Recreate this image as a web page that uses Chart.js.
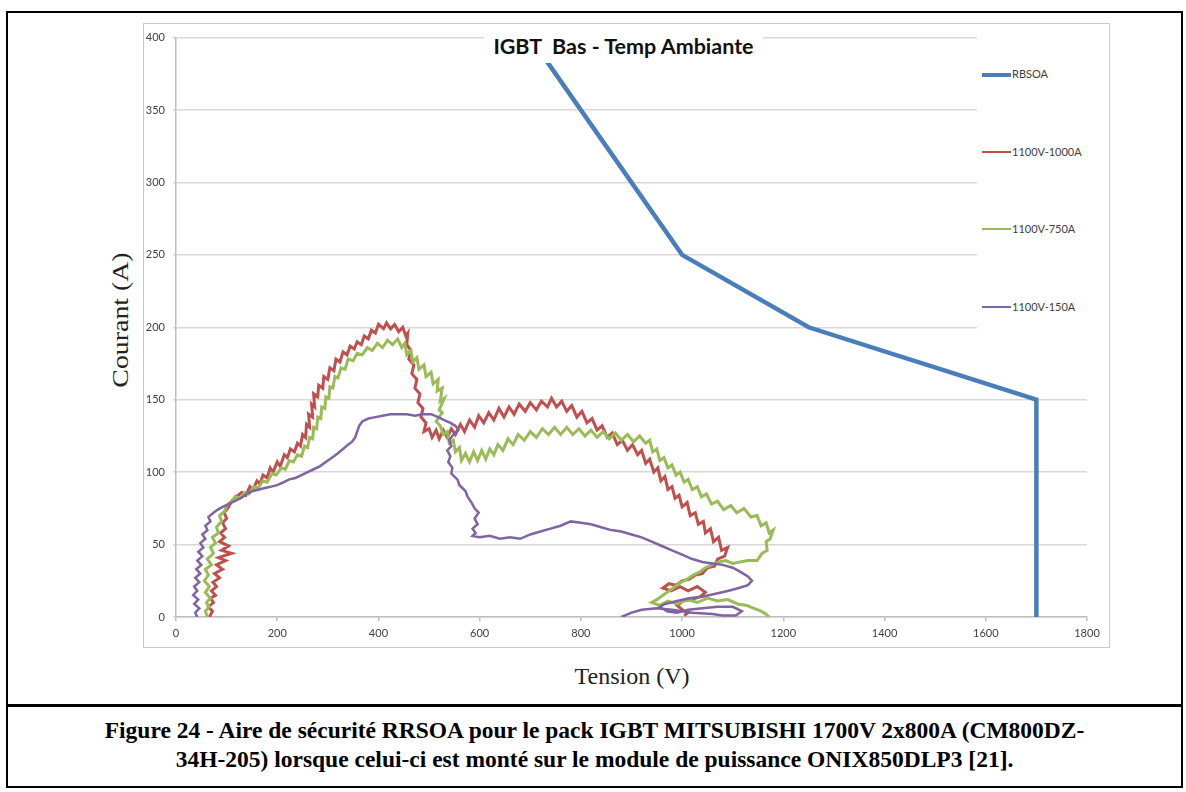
<!DOCTYPE html>
<html>
<head>
<meta charset="utf-8">
<script src="https://cdn.jsdelivr.net/npm/chart.js@4.4.0/dist/chart.umd.min.js"></script>
<style>
    body { margin: 0; background: #fff; width: 1186px; height: 792px; position: relative; overflow: hidden; }
    .abs { position: absolute; }
    #figure { left: 6px; top: 11px; width: 1177px; height: 777px; border: 2px solid #000; box-sizing: border-box; }
    #sep { left: 6px; top: 704px; width: 1177px; height: 3px; background: #000; }
    #frame { left: 143px; top: 23px; width: 967px; height: 625px; border: 1.5px solid #c8c8c8; box-sizing: border-box; }
    #chart { left: 143px; top: 23px; }
    #title { left: 484px; top: 30px; width: 279px; height: 33px; background: #fff; text-align: center;
             font: bold 21.5px Lato, sans-serif; line-height: 33px; white-space: pre; color: #111; }
    #legend { left: 977px; top: 30px; width: 125px; height: 305px; background: #fff; }
    .item { position: absolute; left: 5px; height: 12px; font: 11px Lato, sans-serif; color: #404040; white-space: nowrap; }
    .item span.swatch { position: absolute; left: 0; width: 29px; top: 50%; }
    .item span.txt { position: absolute; left: 30px; top: -1px; line-height: 14px; }
    .axis-title { font: 24px "Liberation Serif", serif; color: #222; text-align: center; line-height: 28px; width: 200px; }
    #xTitle { left: 532px; top: 662px; }
    #yTitle { left: 20px; top: 306px; transform: rotate(-90deg) scaleX(1.16); }
    #caption { left: 6px; top: 716px; width: 1177px; text-align: center; font: bold 23.5px "Liberation Serif", serif;
               line-height: 29px; color: #000; }
</style>
</head>
<body>
<div id="figure" class="abs"></div>
<div id="frame" class="abs"></div>
<canvas id="chart" class="abs" width="967" height="625"></canvas>
<div id="title" class="abs">IGBT  Bas - Temp Ambiante</div>
<div id="legend" class="abs"></div>
<div id="xTitle" class="abs axis-title">Tension (V)</div>
<div id="yTitle" class="abs axis-title">Courant (A)</div>
<div id="sep" class="abs"></div>
<div id="caption" class="abs">Figure 24 - Aire de sécurité RRSOA pour le pack IGBT MITSUBISHI 1700V 2x800A (CM800DZ-<br>34H-205) lorsque celui-ci est monté sur le module de puissance ONIX850DLP3 [21].</div>

<script>
// axes
const xTickValues = [0, 200, 400, 600, 800, 1000, 1200, 1400, 1600, 1800]
const yTickValues = [0, 50, 100, 150, 200, 250, 300, 350, 400]

const seriesLabels = ['RBSOA', '1100V-1000A', '1100V-750A', '1100V-150A']
const seriesColors = ['#4A7EBB', '#C0504D', '#9BBB59', '#8064A2']
const seriesWidths = [4.5, 3, 3, 2.5]

// [tension V, courant A]
const rbsoa = [[700, 400], [1000, 250], [1250, 200], [1700, 150], [1700, 0]]

const v1000A = [
    [66, 0], [72, 4], [64, 7], [74, 10], [68, 13], [78, 15], [70, 18], [80, 21], [73, 24], [86, 27],
    [76, 30], [92, 33], [80, 36], [98, 39], [84, 41], [110, 44], [90, 46], [104, 49], [86, 52], [96, 55],
    [88, 58], [98, 61], [92, 65], [100, 68], [95, 72], [104, 76], [110, 80], [120, 84], [116, 82], [130, 86],
    [138, 84], [146, 90], [152, 88], [160, 94], [166, 92], [172, 98], [180, 96], [186, 103], [192, 100], [200, 107],
    [206, 104], [214, 112], [220, 110], [226, 116], [234, 114], [240, 120], [246, 118], [250, 126], [256, 124], [258, 133],
    [264, 131], [262, 140], [270, 138], [268, 147], [274, 145], [272, 154], [280, 152], [282, 160], [290, 158], [292, 166],
    [300, 164], [304, 172], [312, 170], [316, 178], [324, 176], [330, 183], [338, 181], [344, 187], [352, 185], [358, 190],
    [366, 188], [372, 194], [380, 192], [386, 198], [394, 196], [400, 202], [410, 199], [416, 203], [424, 199], [432, 202],
    [440, 197], [448, 200], [454, 194], [458, 196], [456, 188], [464, 184], [460, 178], [470, 174], [466, 168], [476, 164],
    [472, 158], [482, 154], [478, 148], [488, 144], [484, 138], [494, 134], [490, 128], [500, 130], [506, 124], [514, 129],
    [520, 123], [528, 129], [536, 124], [544, 130], [552, 126], [562, 133], [570, 128], [580, 136], [590, 131], [598, 139],
    [608, 134], [618, 141], [628, 136], [638, 144], [648, 138], [658, 145], [668, 140], [678, 147], [690, 142], [700, 148],
    [712, 143], [722, 149], [734, 145], [742, 151], [752, 145], [762, 149], [772, 142], [782, 146], [792, 138], [802, 142],
    [812, 134], [822, 137], [832, 129], [842, 132], [852, 124], [862, 127], [872, 119], [882, 122], [892, 115], [902, 119],
    [912, 112], [920, 115], [928, 106], [936, 109], [944, 100], [952, 103], [958, 94], [966, 97], [972, 88], [980, 90],
    [986, 82], [994, 84], [1000, 76], [1010, 79], [1016, 70], [1026, 72], [1032, 64], [1042, 66], [1046, 58], [1056, 61],
    [1062, 52], [1072, 55], [1078, 46], [1090, 48], [1084, 42], [1070, 40], [1064, 35], [1050, 34], [1040, 30], [1026, 29],
    [1014, 26], [1000, 25], [988, 22], [974, 23], [962, 20], [978, 18], [996, 21], [1012, 18], [1030, 21], [1046, 17],
    [1036, 14], [1018, 12], [1002, 11], [990, 8], [1000, 5], [1012, 3], [1004, 1]
]

const v750A = [
    [62, 0], [58, 4], [66, 7], [60, 10], [68, 13], [58, 17], [66, 21], [56, 25], [64, 29], [58, 33],
    [70, 36], [62, 40], [74, 44], [68, 48], [78, 51], [72, 55], [84, 58], [80, 62], [90, 66], [86, 70],
    [96, 73], [100, 77], [110, 80], [118, 83], [126, 82], [136, 86], [144, 85], [154, 90], [162, 89], [172, 94],
    [180, 93], [190, 99], [198, 98], [208, 103], [216, 102], [224, 108], [232, 107], [240, 112], [248, 111], [254, 118],
    [260, 117], [264, 124], [270, 123], [272, 131], [278, 130], [280, 138], [286, 137], [288, 145], [294, 144], [296, 152],
    [302, 151], [304, 159], [310, 158], [314, 166], [320, 165], [326, 172], [334, 171], [340, 178], [350, 177], [358, 182],
    [368, 181], [378, 186], [388, 184], [398, 189], [408, 186], [418, 191], [428, 188], [438, 192], [446, 186], [452, 189],
    [456, 181], [464, 184], [468, 176], [476, 179], [480, 171], [490, 174], [494, 166], [504, 169], [508, 161], [518, 164],
    [516, 156], [526, 158], [522, 149], [530, 151], [520, 143], [526, 141], [514, 135], [522, 132], [528, 126], [536, 128],
    [540, 120], [548, 122], [552, 114], [560, 117], [564, 108], [572, 113], [580, 107], [588, 114], [596, 108], [604, 115],
    [612, 109], [620, 116], [628, 112], [636, 119], [646, 115], [656, 123], [666, 119], [676, 126], [688, 122], [700, 128],
    [712, 124], [724, 130], [736, 126], [748, 131], [760, 126], [772, 131], [784, 126], [796, 130], [808, 125], [820, 129],
    [832, 124], [844, 128], [856, 123], [868, 127], [880, 122], [892, 126], [904, 121], [916, 125], [928, 120], [936, 122],
    [942, 114], [950, 116], [956, 108], [964, 110], [972, 103], [980, 105], [988, 98], [996, 100], [1004, 93], [1012, 95],
    [1020, 88], [1030, 90], [1038, 83], [1048, 85], [1058, 78], [1070, 80], [1082, 74], [1096, 77], [1108, 72], [1122, 75],
    [1136, 69], [1148, 70], [1156, 63], [1166, 65], [1172, 58], [1180, 60], [1174, 54], [1166, 52], [1168, 46], [1158, 44],
    [1148, 39], [1130, 39], [1114, 38], [1100, 37], [1086, 39], [1072, 38], [1058, 36], [1046, 34], [1034, 31], [1022, 29],
    [1010, 26], [998, 24], [986, 21], [974, 18], [962, 15], [950, 12], [940, 10], [956, 8], [972, 11], [990, 9],
    [1010, 12], [1030, 10], [1050, 13], [1070, 11], [1090, 12], [1110, 9], [1128, 8], [1142, 6], [1156, 4], [1166, 2],
    [1172, 0]
]

const v150A = [
    [42, 0], [38, 3], [46, 6], [36, 9], [44, 12], [34, 15], [42, 18], [36, 21], [46, 24], [38, 27],
    [48, 30], [40, 33], [50, 36], [42, 39], [52, 42], [44, 45], [54, 48], [48, 51], [58, 54], [52, 57],
    [62, 60], [58, 63], [68, 66], [64, 69], [74, 72], [82, 74], [92, 76], [104, 78], [116, 80], [128, 82],
    [140, 85], [152, 87], [164, 88], [176, 89], [188, 90], [200, 91], [212, 93], [224, 95], [236, 96], [248, 98],
    [260, 100], [272, 102], [284, 104], [296, 107], [308, 110], [320, 113], [330, 116], [340, 119], [348, 121], [354, 124],
    [358, 128], [362, 132], [368, 135], [380, 137], [394, 138], [408, 139], [424, 140], [440, 140], [456, 140], [472, 139],
    [488, 140], [504, 140], [518, 138], [530, 136], [542, 134], [552, 132], [558, 129], [548, 126], [540, 122], [544, 118],
    [536, 115], [542, 111], [538, 107], [546, 103], [544, 99], [556, 95], [560, 91], [572, 87], [576, 83], [584, 79],
    [590, 75], [598, 72], [590, 68], [596, 64], [586, 61], [592, 58], [586, 56], [600, 55], [620, 56], [640, 54],
    [660, 55], [680, 54], [700, 57], [720, 59], [740, 61], [760, 63], [780, 66], [800, 65], [820, 64], [840, 62],
    [860, 60], [880, 59], [900, 57], [920, 55], [940, 52], [960, 49], [980, 46], [1000, 43], [1020, 40], [1040, 38],
    [1060, 37], [1080, 36], [1100, 34], [1116, 31], [1130, 28], [1138, 25], [1130, 22], [1112, 20], [1090, 18], [1066, 16],
    [1040, 14], [1014, 13], [990, 11], [966, 9], [956, 7], [970, 4], [990, 3], [1012, 5], [1040, 6], [1070, 7],
    [1100, 7], [1118, 4], [1106, 1], [1080, 1], [1060, 2], [1020, 3], [980, 5], [950, 6], [920, 5], [900, 3],
    [880, 0]
]

const seriesData = [rbsoa, v1000A, v750A, v150A]

function toPoints(pairs) {
    return pairs.map(p => ({ x: p[0], y: p[1] }))
}

let datasets = seriesData.map((pairs, i) => ({
    label: seriesLabels[i],
    data: toPoints(pairs),
    borderColor: seriesColors[i],
    backgroundColor: seriesColors[i],
    borderWidth: seriesWidths[i],
    showLine: true,
    pointRadius: 0,
    tension: 0,
    fill: false,
    order: seriesData.length - i // excel draws the last series on top
}))

const tickFont = { family: 'Lato', size: 11 }

new Chart(document.getElementById('chart'), {
    type: 'scatter',
    data: { datasets: datasets },
    options: {
        responsive: false,
        animation: false,
        devicePixelRatio: 1,
        layout: { padding: { top: 14, right: 23, bottom: 0, left: 0 } },
        plugins: {
            legend: { display: false },
            title: { display: false },
            tooltip: { enabled: false }
        },
        scales: {
            x: {
                type: 'linear',
                min: 0,
                max: 1800,
                afterBuildTicks: scale => { scale.ticks = xTickValues.map(v => ({ value: v })) },
                afterFit: scale => { scale.height = 31 },
                ticks: { font: tickFont, color: '#404040', padding: 6, maxRotation: 0, callback: value => String(value) },
                grid: { drawOnChartArea: false, drawTicks: true, tickLength: 4, color: '#bfbfbf', lineWidth: 1.5 },
                border: { display: true, color: '#bfbfbf', width: 1.5 }
            },
            y: {
                type: 'linear',
                min: 0,
                max: 400,
                afterBuildTicks: scale => { scale.ticks = yTickValues.map(v => ({ value: v })) },
                afterFit: scale => { scale.width = 33 },
                ticks: { font: tickFont, color: '#404040', padding: 8, callback: value => String(value) },
                grid: { color: '#d9d9d9', lineWidth: 1.5, tickLength: 3 },
                border: { display: true, color: '#bfbfbf', width: 1.5 }
            }
        }
    }
})

// Excel-like legend box sitting over the right of the plot
let legend = document.getElementById('legend')
seriesLabels.forEach((label, i) => {
    let item = document.createElement('div')
    item.className = 'item'
    item.style.top = (38 + i * 77.7) + 'px'
    let swatch = document.createElement('span')
    swatch.className = 'swatch'
    swatch.style.borderTop = Math.min(seriesWidths[i], 2.5) * (i === 0 ? 1.8 : 1) + 'px solid ' + seriesColors[i]
    swatch.style.marginTop = '-1px'
    let txt = document.createElement('span')
    txt.className = 'txt'
    txt.textContent = label
    item.appendChild(swatch)
    item.appendChild(txt)
    legend.appendChild(item)
})
</script>
</body>
</html>
